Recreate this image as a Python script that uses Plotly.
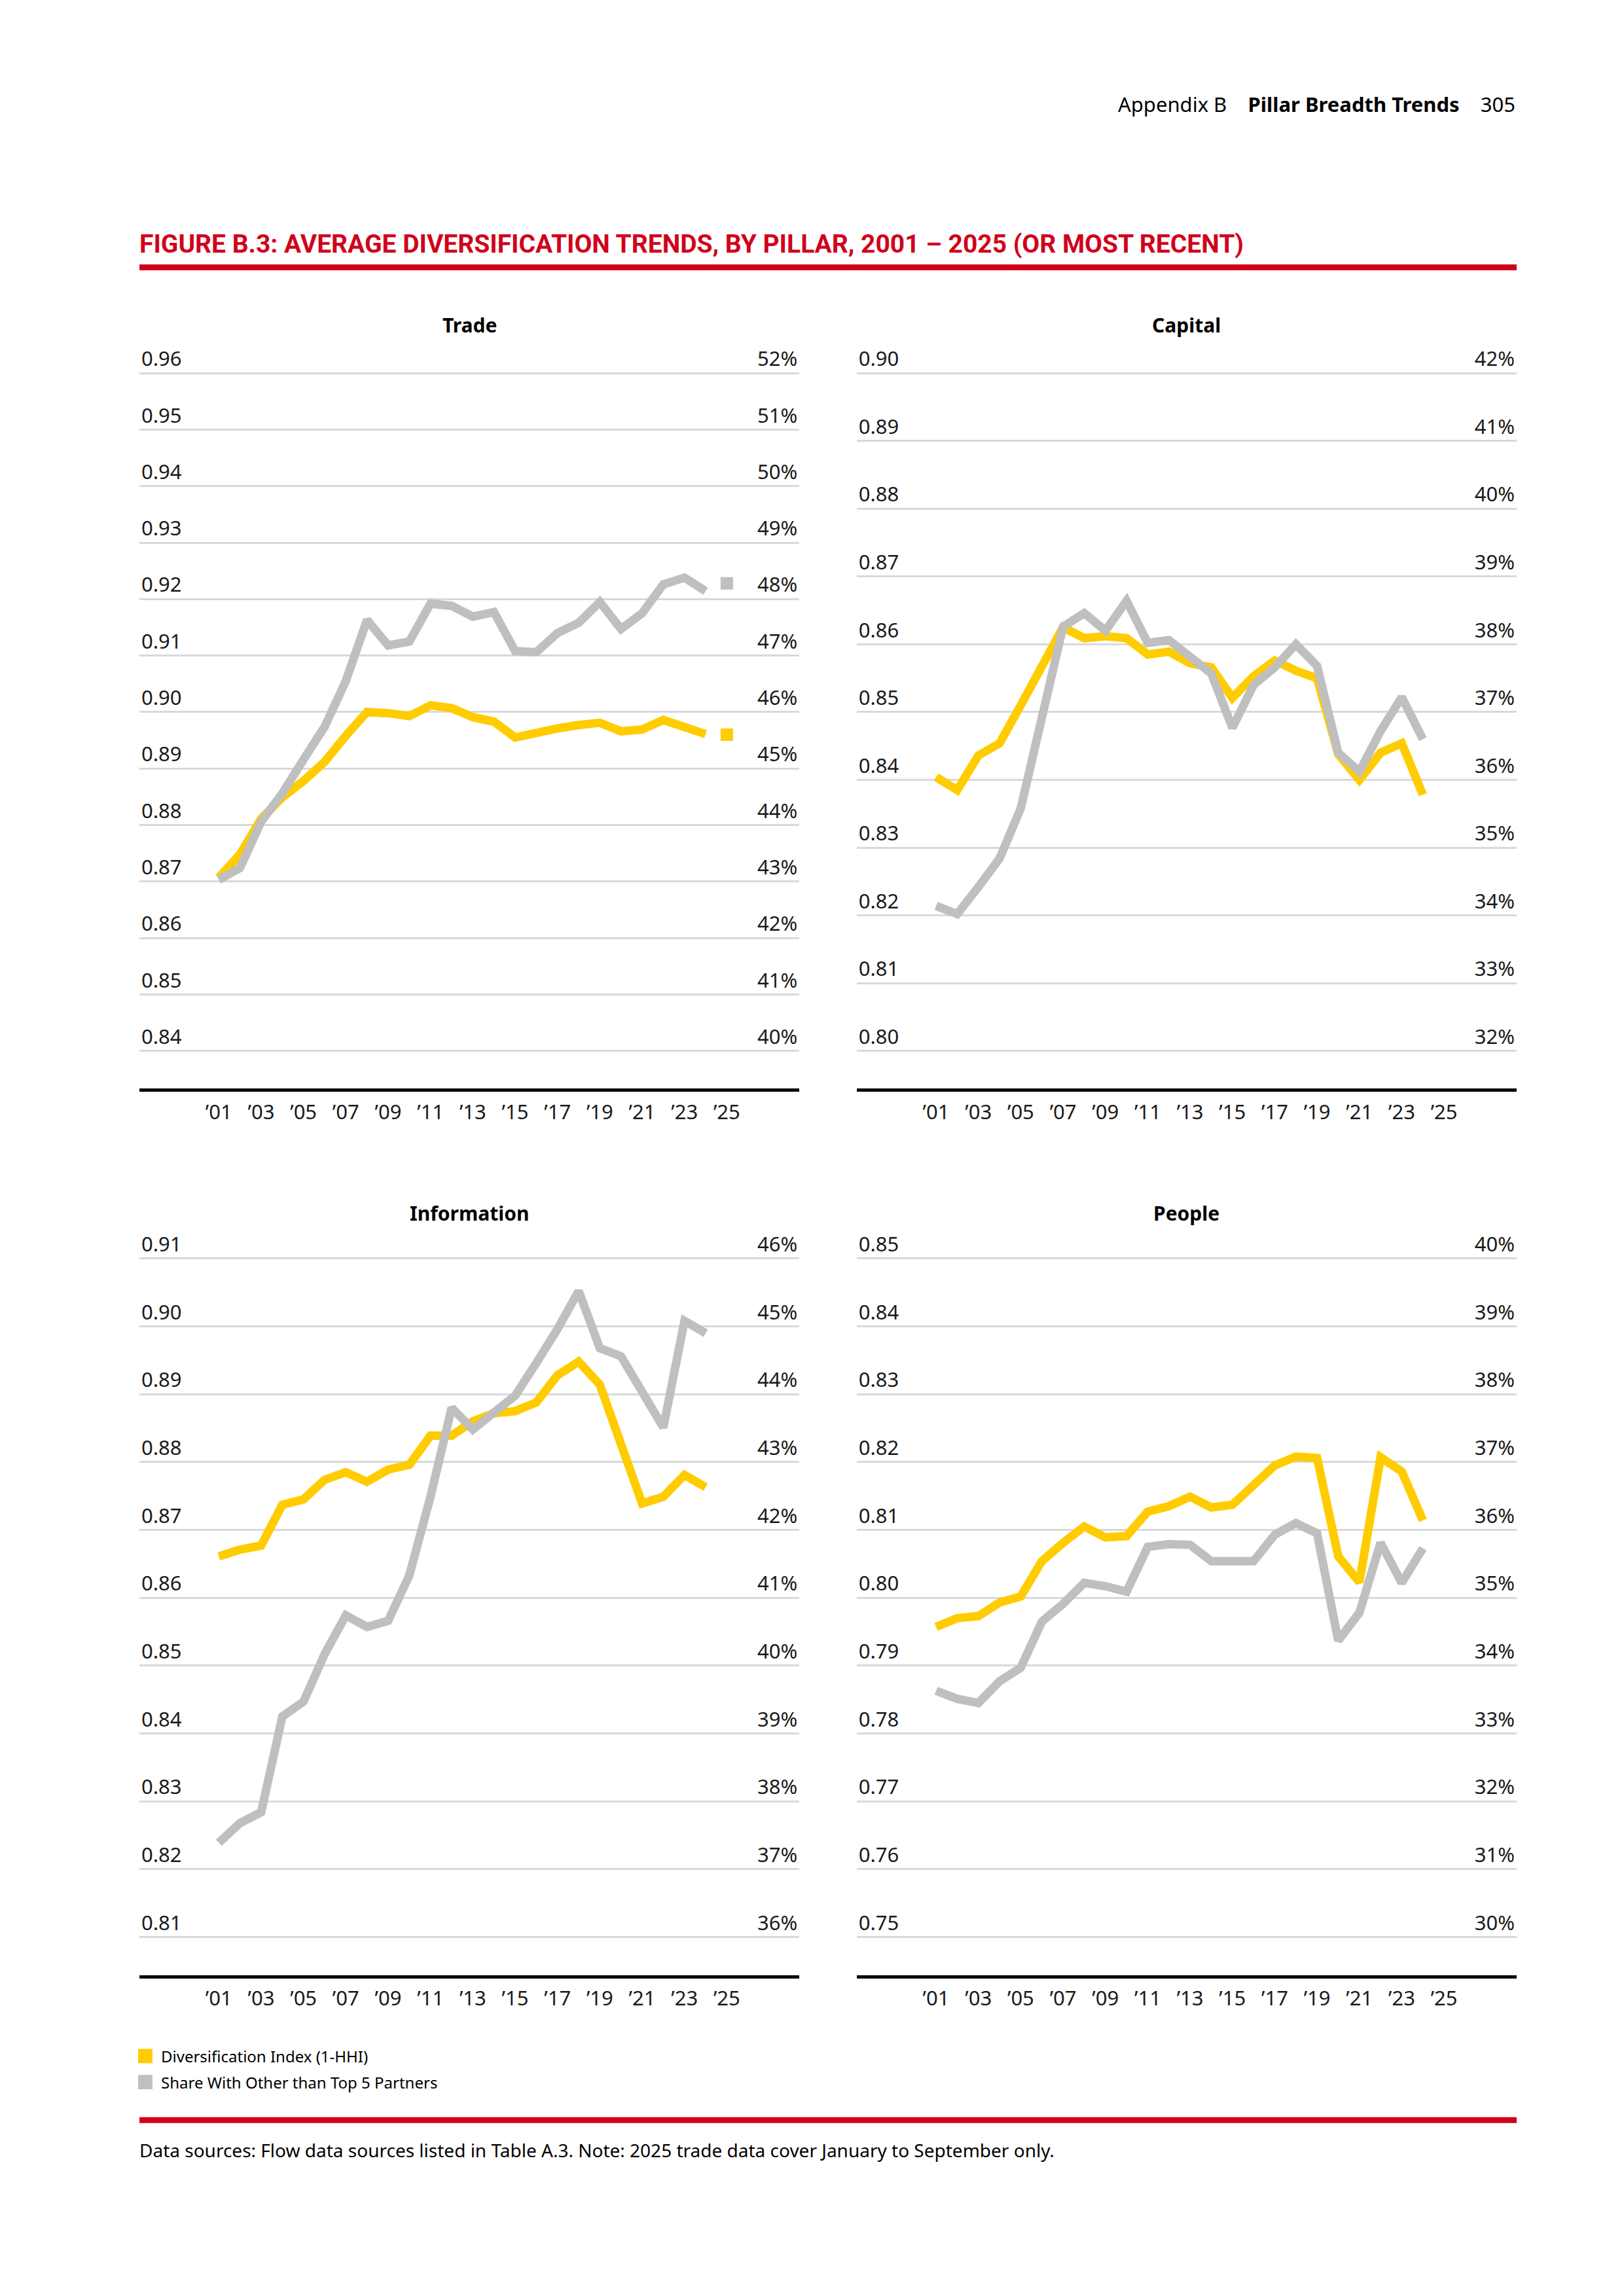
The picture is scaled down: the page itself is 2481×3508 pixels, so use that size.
import plotly.graph_objects as go

# ---- data ----
years = list(range(2001, 2025))
year_ticks = [2001, 2003, 2005, 2007, 2009, 2011, 2013, 2015, 2017, 2019, 2021, 2023, 2025]
year_labels = ["\u201901", "\u201903", "\u201905", "\u201907", "\u201909", "\u201911", "\u201913",
               "\u201915", "\u201917", "\u201919", "\u201921", "\u201923", "\u201925"]

trade_index = [0.8707, 0.8748, 0.8811, 0.8849, 0.8878, 0.8912, 0.8958, 0.9000, 0.8998, 0.8993,
               0.9012, 0.9007, 0.8991, 0.8983, 0.8955, 0.8964, 0.8971, 0.8977, 0.8981, 0.8966,
               0.8969, 0.8986, 0.8974, 0.8961]
trade_share = [43.03, 43.24, 44.06, 44.56, 45.16, 45.74, 46.55, 47.63, 47.18, 47.25,
               47.92, 47.88, 47.69, 47.77, 47.08, 47.06, 47.40, 47.58, 47.95, 47.47,
               47.75, 48.26, 48.38, 48.14]
trade_2025_index = 0.8960
trade_2025_share = 48.28

capital_index = [0.8404, 0.8385, 0.8436, 0.8454, 0.8510, 0.8570, 0.8625, 0.8609, 0.8612, 0.8609,
                 0.8585, 0.8589, 0.8572, 0.8566, 0.8521, 0.8553, 0.8576, 0.8561, 0.8550, 0.8438,
                 0.8400, 0.8440, 0.8454, 0.8378]
capital_share = [34.14, 34.02, 34.42, 34.84, 35.58, 36.94, 38.26, 38.46, 38.20, 38.64,
                 38.02, 38.06, 37.80, 37.57, 36.77, 37.40, 37.66, 38.00, 37.68, 36.40,
                 36.12, 36.72, 37.22, 36.60]

information_index = [0.8661, 0.8671, 0.8677, 0.8737, 0.8745, 0.8774, 0.8785, 0.8771, 0.8789, 0.8796,
                     0.8839, 0.8839, 0.8860, 0.8872, 0.8875, 0.8888, 0.8928, 0.8948, 0.8914, 0.8827,
                     0.8739, 0.8749, 0.8781, 0.8763]
information_share = [37.39, 37.68, 37.84, 39.25, 39.47, 40.17, 40.74, 40.57, 40.66, 41.33,
                     42.49, 43.80, 43.48, 43.74, 43.98, 44.46, 44.96, 45.52, 44.68, 44.56,
                     44.02, 43.51, 45.08, 44.90]

people_index = [0.7957, 0.7970, 0.7973, 0.7993, 0.8002, 0.8054, 0.8081, 0.8105, 0.8089, 0.8091,
                0.8127, 0.8135, 0.8149, 0.8133, 0.8137, 0.8165, 0.8195, 0.8208, 0.8206, 0.8061,
                0.8023, 0.8207, 0.8186, 0.8114]
people_share = [33.63, 33.51, 33.45, 33.77, 33.97, 34.65, 34.91, 35.22, 35.17, 35.09,
                35.75, 35.79, 35.78, 35.54, 35.54, 35.54, 35.93, 36.10, 35.95, 34.37,
                34.78, 35.81, 35.22, 35.73]

# left axis (index) and right axis (share, %) tick spans per panel
trade_left = (0.84, 0.96)
trade_right = (40, 52)
capital_left = (0.80, 0.90)
capital_right = (32, 42)
information_left = (0.81, 0.91)
information_right = (36, 46)
people_left = (0.75, 0.85)
people_right = (30, 40)

legend_names = ["Diversification Index (1-HHI)", "Share With Other than Top 5 Partners"]

# ---- styling / geometry ----
W, H = 2481, 3508
YELLOW = "#FFCC00"
GRAY = "#BFBFBF"
RED = "#D0021B"
GRID = "#D9D9D9"
INK = "#1A1A1A"
FONT = "Noto Sans"


# page pixel -> paper coords (small correction for the page offset seen in the render)
def fx(p):
    return ((p - 7.8) / 1.0057) / W


def fy(p):
    return 1 - ((p - 43.7) / 0.9952) / H


cols = [(214, 1228), (1316, 2330)]
rows = [dict(top=571, bot=1613, axis=1671, title=497),
        dict(top=1932, bot=2975, axis=3034, title=1862)]
x_range = [1997.25, 2028.43]

panels = [
    ("Trade", trade_index, trade_share, trade_left, trade_right, 0, 0),
    ("Capital", capital_index, capital_share, capital_left, capital_right, 0, 1),
    ("Information", information_index, information_share, information_left, information_right, 1, 0),
    ("People", people_index, people_share, people_left, people_right, 1, 1),
]

fig = go.Figure()
annotations = []
layout = {}

for i, (name, idx, share, (lo, hi), (rlo, rhi), r, c) in enumerate(panels):
    row = rows[r]
    x0, x1 = cols[c]
    step = 0.01
    n = round((hi - lo) / step)
    spacing = (row["bot"] - row["top"]) / n
    pad_top = 6
    y0 = lo - (row["axis"] - row["bot"]) / spacing * step
    y1 = hi + pad_top / spacing * step
    scale = (rhi - rlo) / (hi - lo)
    ry0 = rlo + (y0 - lo) * scale
    ry1 = rlo + (y1 - lo) * scale

    xa = "x" if i == 0 else f"x{i + 1}"
    ya = f"y{2 * i + 1}" if i else "y"
    yb = f"y{2 * i + 2}"
    xkey = "xaxis" if i == 0 else f"xaxis{i + 1}"
    ykey = "yaxis" if i == 0 else f"yaxis{2 * i + 1}"
    ykey2 = f"yaxis{2 * i + 2}"

    dom_y = [fy(row["axis"]), fy(row["top"] - pad_top)]
    right_vals = [rlo + k for k in range(rhi - rlo + 1)]

    layout[xkey] = dict(
        domain=[fx(x0), fx(x1)], range=x_range, anchor=ya,
        tickvals=year_ticks, ticktext=year_labels, showgrid=False, zeroline=False,
        showline=True, linecolor="black", linewidth=5, ticks="",
        ticklabelstandoff=4, tickfont=dict(family=FONT, size=31, color=INK),
    )
    layout[ykey] = dict(
        domain=dom_y, range=[y0, y1], anchor=xa,
        tickvals=[round(lo + k * step, 2) for k in range(n + 1)], tickformat=".2f",
        ticklabelposition="inside top", ticklabeloverflow="allow", ticks="",
        showgrid=True, gridcolor=GRID, gridwidth=3, zeroline=False, showline=False,
        tickfont=dict(family=FONT, size=31, color=INK),
    )
    layout[ykey2] = dict(
        domain=dom_y, range=[ry0, ry1], anchor=xa, overlaying=ya, side="right",
        tickvals=right_vals, ticktext=[f"{v}%" for v in right_vals],
        ticklabelposition="inside top", ticklabeloverflow="allow", ticks="",
        showgrid=False, zeroline=False, showline=False,
        tickfont=dict(family=FONT, size=31, color=INK),
    )

    fig.add_trace(go.Scatter(x=years, y=idx, xaxis=xa, yaxis=ya, mode="lines",
                             line=dict(color=YELLOW, width=13), showlegend=False,
                             name=legend_names[0]))
    fig.add_trace(go.Scatter(x=years, y=share, xaxis=xa, yaxis=yb, mode="lines",
                             line=dict(color=GRAY, width=13), showlegend=False,
                             name=legend_names[1]))
    if name == "Trade":
        fig.add_trace(go.Scatter(x=[2025], y=[trade_2025_index], xaxis=xa, yaxis=ya, mode="markers",
                                 marker=dict(symbol="square", size=19, color=YELLOW), showlegend=False,
                                 name=legend_names[0] + " (2025)"))
        fig.add_trace(go.Scatter(x=[2025], y=[trade_2025_share], xaxis=xa, yaxis=yb, mode="markers",
                                 marker=dict(symbol="square", size=19, color=GRAY), showlegend=False,
                                 name=legend_names[1] + " (2025)"))

    annotations.append(dict(
        text=f"<b>{name}</b>", xref="paper", yref="paper", x=fx((x0 + x1) / 2), y=fy(row["title"]),
        xanchor="center", yanchor="middle", showarrow=False,
        font=dict(family=FONT, size=30, color="black"),
    ))

# legend: square swatches + labels
shapes = []
for k, (label, colr) in enumerate(zip(legend_names, [YELLOW, GRAY])):
    yc = 3158 + 40 * k
    shapes.append(dict(type="rect", xref="paper", yref="paper", x0=fx(212), x1=fx(234),
                       y0=fy(yc + 11), y1=fy(yc - 11), fillcolor=colr, line=dict(width=0)))
    annotations.append(dict(text=label, xref="paper", yref="paper", x=fx(245), y=fy(yc),
                            xanchor="left", yanchor="middle", showarrow=False,
                            font=dict(family=FONT, size=24, color="black")))

# header, title, footer
annotations += [
    dict(text="Appendix B&nbsp;&nbsp;&nbsp;&nbsp;<b>Pillar Breadth Trends</b>&nbsp;&nbsp;&nbsp;&nbsp;305",
         xref="paper", yref="paper", x=fx(2330), y=fy(157), xanchor="right", yanchor="middle",
         showarrow=False, font=dict(family=FONT, size=31, color="black")),
    dict(text="<b>FIGURE B.3: AVERAGE DIVERSIFICATION TRENDS, BY PILLAR, 2001 \u2013 2025 (OR MOST RECENT)</b>",
         xref="paper", yref="paper", x=fx(212), y=fy(373), xanchor="left", yanchor="middle",
         showarrow=False, font=dict(family="Roboto", size=39, color=RED)),
    dict(text="Data sources: Flow data sources listed in Table A.3. Note: 2025 trade data cover January to September only.",
         xref="paper", yref="paper", x=fx(212), y=fy(3302), xanchor="left", yanchor="middle",
         showarrow=False, font=dict(family=FONT, size=28, color="black")),
]

shapes += [
    dict(type="rect", xref="paper", yref="paper", x0=fx(214), x1=fx(2330), y0=fy(413), y1=fy(404),
         fillcolor=RED, line=dict(width=0)),
    dict(type="rect", xref="paper", yref="paper", x0=fx(214), x1=fx(2330), y0=fy(3261), y1=fy(3252),
         fillcolor=RED, line=dict(width=0)),
]

fig.update_layout(
    width=W, height=H, margin=dict(l=0, r=0, t=0, b=0),
    paper_bgcolor="white", plot_bgcolor="white",
    annotations=annotations, shapes=shapes,
    showlegend=False,
    **layout,
)

fig.write_html("out.html")
